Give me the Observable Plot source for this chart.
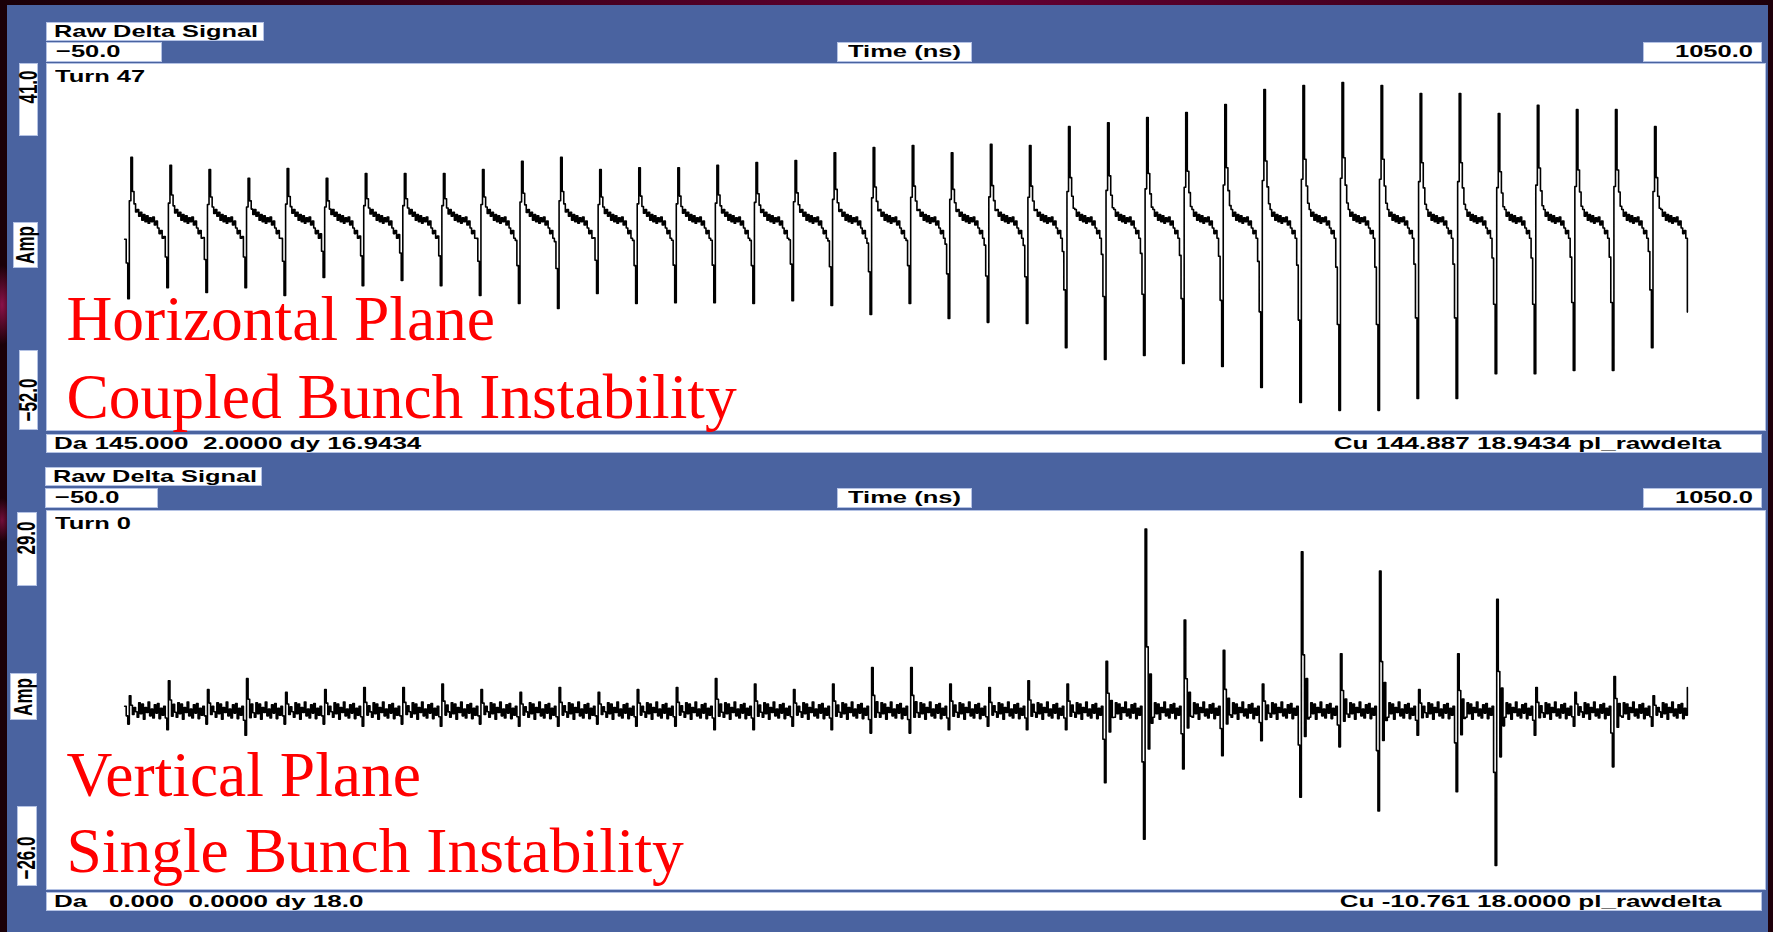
<!DOCTYPE html>
<html>
<head>
<meta charset="utf-8">
<script src="https://cdn.jsdelivr.net/npm/d3@7"></script>
<script src="https://cdn.jsdelivr.net/npm/@observablehq/plot@0.6"></script>
<style>
html,body{margin:0;padding:0;overflow:hidden;background:#1e000b;}
#page{position:relative;width:1773px;height:932px;overflow:hidden;
 background:
  radial-gradient(ellipse 14px 40px at 2px 305px, rgba(150,20,80,0.9), rgba(0,0,0,0) 100%),
  radial-gradient(ellipse 10px 22px at 2px 520px, rgba(150,20,80,0.7), rgba(0,0,0,0) 100%),
  linear-gradient(90deg,#1a0008 0%,#3c0019 25%,#640032 55%,#3c0019 85%,#1e000a 100%);}
#blue{position:absolute;left:7px;top:5px;width:1761px;height:927px;background:#4a63a0;}
.box{position:absolute;background:#fff;box-sizing:border-box;border:1px solid #b4c2e4;}
.lbl{position:absolute;font-family:"Liberation Sans",Arial,Helvetica,sans-serif;font-weight:bold;font-size:17px;line-height:17px;color:#000;white-space:pre;}
.plot{position:absolute;}
</style>
</head>
<body>
<div id="page"><div id="blue"></div></div>
<script>
// ---------------- DATA ----------------
const timeDomain = [-50, 1050];          // ns, x axis of both panels
const timeLabel = "Time (ns)";
const ampLabel = "Amp";
const panelTitle = "Raw Delta Signal";
const bunchSpacingNs = 25;
const sampleNs = 1;

// Horizontal plane, Turn 47 (coupled bunch instability)
const hTurn = "Turn 47";
const hAmpDomain = [-52, 41];
const hBaseline = 1.5;
const hPeaks = [17.2, 15.2, 14.1, 11.9, 14.4, 11.9, 13.1, 13.1, 13.1, 14.1,
                16.2, 17.2, 14.1, 14.6, 14.6, 15.2, 15.9, 16.4, 18.4, 19.7,
                20.2, 18.4, 20.5, 20.2, 25.0, 26.0, 27.3, 28.6, 30.6, 34.4,
                35.4, 36.2, 35.4, 33.4, 33.4, 28.3, 30.4, 29.3, 29.3, 25.0];
const hTroughs = [-18.6, -15.8, -17.0, -15.8, -17.8, -13.2, -15.3, -14.0, -15.3, -17.8,
                  -19.8, -21.1, -17.3, -19.8, -19.6, -19.6, -19.8, -19.1, -20.3, -22.6,
                  -19.8, -23.6, -24.6, -24.9, -31.0, -34.0, -33.0, -35.0, -35.8, -41.1,
                  -44.9, -46.9, -46.9, -43.9, -43.9, -37.6, -37.6, -36.8, -36.8, -31.0];
// shape of one bunch response, one entry per 1 ns sample
const hPeakShape   = [0, 0, 0, 0.3, 1, 0.45, 0.25, 0.12, 0, 0, 0, 0, 0, 0, 0, 0, 0, 0, 0, 0, 0, 0, 0, 0, 0];
const hTroughShape = [0.25, 0.55, 1, 0, 0, 0, 0, 0, 0, 0, 0, 0, 0, 0, 0, 0, 0, 0, 0, 0, 0, 0, 0, 0, 0];
const hRipple      = [0, 0, 0, 0, 0, 0, 0, 0, 2.5, 0.8, 1.8, -0.2, 1.2, -0.6, 0.9, -1.0, 0.4, -0.6, 0.6, -1.4, -0.4, -2.2, -3.6, -2.8, -4.8];
const hTail = -22.0;
const hStatusLeft = "Da 145.000  2.0000 dy 16.9434";
const hStatusRight = "Cu 144.887 18.9434 pl_rawdelta";
const hNote = ["Horizontal Plane", "Coupled Bunch Instability"];

// Vertical plane, Turn 0 (single bunch instability)
const vTurn = "Turn 0";
const vAmpDomain = [-26, 29];
const vBaseline = 0;
const vUps = [2.1, 4.3, 3.0, 4.6, 2.6, 3.0, 3.3, 3.3, 3.8, 3.0,
              2.6, 3.3, 2.6, 3.0, 3.3, 4.6, 3.8, 3.0, 3.8, 6.2,
              6.2, 3.8, 3.3, 4.3, 3.8, 7.1, 26.3, 13.1, 8.7, 3.8,
              23.0, 8.2, 20.2, 3.0, 8.2, 16.1, 3.3, 2.6, 4.9, 2.1];
const vDowns = [-2.0, -2.8, -2.0, -3.6, -2.0, -2.0, -2.3, -2.0, -2.3, -2.0,
                -2.3, -2.3, -2.0, -2.3, -2.3, -2.8, -2.8, -2.3, -2.8, -3.3,
                -3.3, -2.8, -2.3, -2.8, -2.8, -10.5, -18.7, -8.5, -6.6, -4.4,
                -12.6, -5.3, -14.6, -3.6, -11.8, -22.5, -3.6, -2.3, -8.2, -2.3];
const vUpShape   = [0, 0, 0, 1, 0.35, 0, 0.2, 0, 0, 0, 0, 0, 0, 0, 0, 0, 0, 0, 0, 0, 0, 0, 0, 0, 0];
const vDownShape = [0, 0.4, 1, 0, 0, 0.3, 0, 0.1, 0, 0, 0, 0, 0, 0, 0, 0, 0, 0, 0, 0, 0, 0, 0, 0, 0];
const vNoise     = [0.6, 0, 0, 0, 0, 0, 0, 0, -1.0, 1.1, -0.5, 0.9, -1.3, 0.4, -0.3, 1.2, -0.8, 0.2, -1.1, 0.8, -0.4, 1.0, -1.2, 0.3, -0.7];
const vTail = 3.3;
const vStatusLeft = "Da   0.000  0.0000 dy 18.0";
const vStatusRight = "Cu -10.761 18.0000 pl_rawdelta";
const vNote = ["Vertical Plane", "Single Bunch Instability"];

// ---------------- BUILD SERIES ----------------
function buildSeries(ups, downs, base, upShape, downShape, extra, tail) {
  const out = [];
  ups.forEach((u, k) => {
    const U = u - base, D = downs[k] - base;
    upShape.forEach((f, i) => {
      out.push({t: k * bunchSpacingNs + i * sampleNs, v: base + f * U + downShape[i] * D + extra[i]});
    });
  });
  out.push({t: ups.length * bunchSpacingNs, v: tail});
  return out;
}
const hSeries = buildSeries(hPeaks, hTroughs, hBaseline, hPeakShape, hTroughShape, hRipple, hTail);
const vSeries = buildSeries(vUps, vDowns, vBaseline, vUpShape, vDownShape, vNoise, vTail);

// ---------------- LAYOUT ----------------
const page = document.getElementById("page");
const fmt = d3.format(".1f");

function box(l, t, w, h) {
  const d = document.createElement("div");
  d.className = "box";
  Object.assign(d.style, {left: l + "px", top: t + "px", width: w + "px", height: h + "px"});
  page.appendChild(d);
}
function label(text, x, base, anchor, sx) {
  const d = document.createElement("div");
  d.className = "lbl";
  d.textContent = text;
  d.style.top = (base - 14.4) + "px";
  if (anchor === "end") { d.style.right = (1773 - x) + "px"; d.style.transformOrigin = "100% 0"; }
  else { d.style.left = x + "px"; d.style.transformOrigin = "0 0"; }
  d.style.transform = `scaleX(${sx || 1.5})`;
  page.appendChild(d);
}
function vlabel(text, cx, cy) {
  const w = document.createElement("div");
  w.style.cssText = `position:absolute;left:${cx}px;top:${cy}px;width:0;height:0;`;
  const s = document.createElement("div");
  s.className = "lbl";
  s.textContent = text;
  s.style.left = "0px"; s.style.top = "0px";
  s.style.transformOrigin = "0 0";
  s.style.transform = "scaleX(1.5) rotate(-90deg) translate(-50%,-50%)";
  w.appendChild(s);
  page.appendChild(w);
}

function panel(cfg) {
  const {series, ampDomain, top, height, note, noteDy, turn, statusLeft, statusRight, y0, boxes, vl} = cfg;
  box(boxes.title[0], boxes.title[1], boxes.title[2], 19);
  label(panelTitle, boxes.title[0] + 8, boxes.title[1] + 15, "start", 1.49);
  box(boxes.xmin[0], boxes.xmin[1], boxes.xmin[2], 20);
  label(fmt(timeDomain[0]), boxes.xmin[0] + 10, boxes.xmin[1] + 15.5);
  box(837, boxes.xmin[1], 135, 20);
  label(timeLabel, 848, boxes.xmin[1] + 15.5);
  box(1643, boxes.xmin[1], 119, 20);
  label(fmt(timeDomain[1]), 1753, boxes.xmin[1] + 15.5, "end");
  box(vl.ymax[0], vl.ymax[1], vl.ymax[2], vl.ymax[3]);
  vlabel(fmt(ampDomain[1]), vl.ymax[0] + vl.ymax[2] / 2, vl.ymaxC);
  box(vl.amp[0], vl.amp[1], vl.amp[2], vl.amp[3]);
  vlabel(ampLabel, vl.amp[0] + vl.amp[2] / 2, vl.amp[1] + vl.amp[3] / 2);
  box(vl.ymin[0], vl.ymin[1], vl.ymin[2], vl.ymin[3]);
  vlabel(fmt(ampDomain[0]), vl.ymin[0] + vl.ymin[2] / 2, vl.yminC);

  const serif = "'Liberation Serif','Times New Roman',serif";
  const chart = Plot.plot({
    width: 1719, height, margin: 0,
    x: {domain: timeDomain, axis: null},
    y: {domain: ampDomain, axis: null},
    style: {background: "#ffffff", overflow: "visible"},
    marks: [
      Plot.frame({stroke: "#b4c2e4"}),
      Plot.line(series, {x: "t", y: "v", curve: "step-after", stroke: "#000", strokeWidth: 1.6}),
      Plot.text([note[0]], {frameAnchor: "bottom-left", dx: 20, dy: noteDy[0], lineAnchor: "bottom", textAnchor: "start",
        fill: "#ff0000", fontSize: 63.5, fontFamily: serif}),
      Plot.text([note[1]], {frameAnchor: "bottom-left", dx: 20, dy: noteDy[1], lineAnchor: "bottom", textAnchor: "start",
        fill: "#ff0000", fontSize: 63.5, fontFamily: serif})
    ]
  });
  const wrap = document.createElement("div");
  wrap.className = "plot";
  wrap.style.left = "46px"; wrap.style.top = top + "px";
  wrap.appendChild(chart);
  page.appendChild(wrap);
  label(turn, 55, top + 19);

  box(46, y0, 1716, 19);
  label(statusLeft, 54, y0 + 15, "start", 1.53);
  label(statusRight, 1721, y0 + 15, "end", 1.53);
}

panel({
  series: hSeries, ampDomain: hAmpDomain, top: 63, height: 367,
  note: hNote, noteDy: [-91, -13], turn: hTurn,
  statusLeft: hStatusLeft, statusRight: hStatusRight, y0: 434,
  boxes: {title: [46, 22, 218], xmin: [46, 42, 116]},
  vl: {ymax: [19, 63, 19, 73], ymaxC: 87, amp: [13, 222, 25, 46], ymin: [19, 350, 19, 80], yminC: 400}
});
panel({
  series: vSeries, ampDomain: vAmpDomain, top: 510, height: 379,
  note: vNote, noteDy: [-94, -18], turn: vTurn,
  statusLeft: vStatusLeft, statusRight: vStatusRight, y0: 892,
  boxes: {title: [45, 467, 217], xmin: [45, 488, 113]},
  vl: {ymax: [17, 512, 20, 74], ymaxC: 538, amp: [10, 673, 27, 47], ymin: [17, 806, 20, 80], yminC: 858}
});
</script>
</body>
</html>
